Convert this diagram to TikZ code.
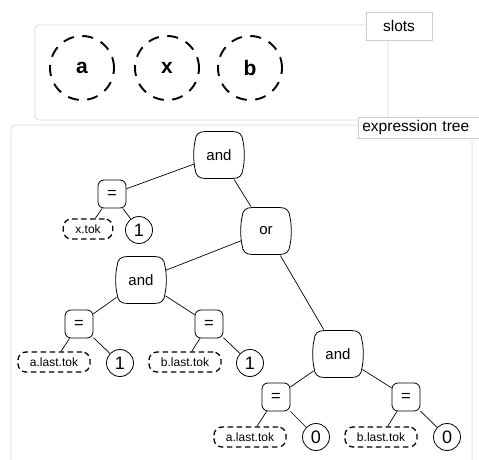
\documentclass[tikz,border=0pt]{standalone}
\usepackage{fontspec}
\setmainfont{Liberation Sans}
\usetikzlibrary{calc}
\begin{document}
\begin{tikzpicture}[x=1pt,y=-1pt,
  frame/.style={draw=black!16, rounded corners=4pt, line width=0.8pt},
  tag/.style={draw=black!20, fill=white, line width=0.7pt, inner sep=0pt,
    font=\fontsize{15.5}{18}\selectfont},
  slot/.style={circle, draw, line width=1.9pt, dash pattern=on 11pt off 8.5pt,
    minimum size=64pt, inner sep=0pt, font=\bfseries\fontsize{21}{24}\selectfont},
  op/.style={minimum width=47pt, minimum height=47pt, inner sep=0pt, outer sep=1pt,
    font=\fontsize{15}{18}\selectfont},
  opline/.style={draw, line width=0.8pt},
  eq/.style={draw, rounded corners=6pt, line width=0.8pt, minimum width=28pt,
    minimum height=28pt, inner sep=0pt, font=\fontsize{16.5}{19}\selectfont},
  var/.style={draw, rounded corners=8pt, line width=1.3pt, dash pattern=on 5.5pt off 3.5pt,
    minimum height=20pt, inner xsep=12pt, inner ysep=0pt, font=\fontsize{12}{14}\selectfont},
  num/.style={circle, draw, line width=0.8pt, minimum size=27pt, inner sep=0pt,
    font=\fontsize{18}{21}\selectfont},
  edge/.style={draw, line width=0.7pt}
]
\useasboundingbox (0,0) rectangle (479,460);
\clip (0,0) rectangle (479,460);

% slot panel
\draw[frame] (35,25) rectangle (388,120);
\node[tag, minimum width=66pt, minimum height=28pt] (slotstag) at (399,26) {slots};
\node[slot] (sa) at (82,68) {a};
\node[slot] (sx) at (167,68) {x};
\node[slot] (sb) at (250,68) {b};

% expression tree panel
\draw[frame] (11,125) rectangle (472,490);
\node[tag, anchor=west, inner xsep=4pt, text width=124pt, align=left, minimum height=21pt]
  (treetag) at (358,127.5) {expression tree};

\node[op] (and1) at (219,155) {and};
\node[eq] (eq1) at (112,194) {=};
\node[var] (xtok) at (88,229) {x.tok};
\node[num] (n1) at (139,230) {1};
\node[op] (or) at (266,231) {or};
\node[op] (and2) at (141,280) {and};
\node[eq] (eq2) at (79,324) {=};
\node[var] (alast1) at (54,362) {a.last.tok};
\node[num] (n2) at (120,363) {1};
\node[eq] (eq3) at (209,324) {=};
\node[var] (blast1) at (185,362) {b.last.tok};
\node[num] (n3) at (250,363) {1};
\node[op] (and3) at (338,354) {and};
\node[eq] (eq4) at (276,397) {=};
\node[var] (alast2) at (250,437) {a.last.tok};
\node[num] (n4) at (316,437) {0};
\node[eq] (eq5) at (406,397) {=};
\node[var] (blast2) at (381,437) {b.last.tok};
\node[num] (n5) at (447,437) {0};

% operator outlines: rounded corners with slightly bulging sides
\foreach \n in {and1,or,and2,and3}{
  \path[opline]
    ($(\n.north west)+(11,1)$) -- ($(\n.north east)+(-11,1)$)
    .. controls ($(\n.north east)+(-4,1)$) and ($(\n.north east)+(-1,4)$)
    .. ($(\n.north east)+(-0.5,11)$)
    .. controls ($(\n.north east)+(1.2,17)$) and ($(\n.south east)+(1.2,-17)$)
    .. ($(\n.south east)+(-0.5,-11)$)
    .. controls ($(\n.south east)+(-1,-4)$) and ($(\n.south east)+(-4,-1)$)
    .. ($(\n.south east)+(-11,-1)$)
    -- ($(\n.south west)+(11,-1)$)
    .. controls ($(\n.south west)+(4,-1)$) and ($(\n.south west)+(1,-4)$)
    .. ($(\n.south west)+(0.5,-11)$)
    .. controls ($(\n.south west)+(-1.2,-17)$) and ($(\n.north west)+(-1.2,17)$)
    .. ($(\n.north west)+(0.5,11)$)
    .. controls ($(\n.north west)+(1,4)$) and ($(\n.north west)+(4,1)$)
    .. cycle;
}

\path[edge]
  (and1) -- (eq1)  (and1) -- (or)
  (eq1) -- (xtok)  (eq1) -- (n1)
  (or) -- (and2)   (or) -- (and3)
  (and2) -- (eq2)  (and2) -- (eq3)
  (eq2) -- (alast1) (eq2) -- (n2)
  (eq3) -- (blast1) (eq3) -- (n3)
  (and3) -- (eq4)  (and3) -- (eq5)
  (eq4) -- (alast2) (eq4) -- (n4)
  (eq5) -- (blast2) (eq5) -- (n5);
\end{tikzpicture}
\end{document}
